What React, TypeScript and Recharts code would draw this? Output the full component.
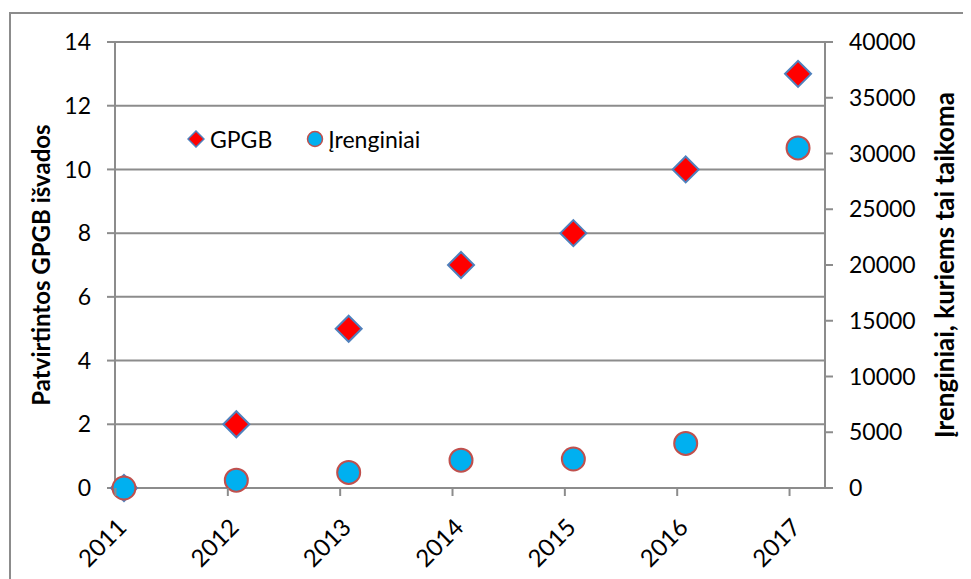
import React from "react";
import { ScatterChart, Scatter, XAxis, YAxis, CartesianGrid } from "recharts";

const years = [2011, 2012, 2013, 2014, 2015, 2016, 2017];
const gpgbCounts = [0, 2, 5, 7, 8, 10, 13];
const installations = [0, 700, 1400, 2500, 2600, 4000, 30500];
const leftTicks = [0, 2, 4, 6, 8, 10, 12, 14];
const rightTicks = [0, 5000, 10000, 15000, 20000, 25000, 30000, 35000, 40000];

const gpgbData = years.map((year, i) => ({ year, gpgb: gpgbCounts[i] }));
const unitData = years.map((year, i) => ({ year, units: installations[i] }));

const FONT = "Lato, 'Open Sans', sans-serif";
const GRID = "#8c8c8c";
const TICK_SIZE = 23;

const Diamond = (props: any) => {
  const { cx, cy } = props;
  const r = 13;
  return (
    <path
      d={`M${cx},${cy - r}L${cx + r},${cy}L${cx},${cy + r}L${cx - r},${cy}Z`}
      fill="#ff0000"
      stroke="#4f81bd"
      strokeWidth={2}
    />
  );
};

const Dot = (props: any) => {
  const { cx, cy } = props;
  return <circle cx={cx} cy={cy} r={11.5} fill="#00b0f0" stroke="#c0504d" strokeWidth={2} />;
};

const YearTick = (props: any) => {
  const { x, y, payload } = props;
  const ax = x + 4;
  const ay = y + 41;
  return (
    <g>
      <line x1={x - 8.5} y1={y} x2={x - 8.5} y2={y + 8} stroke={GRID} strokeWidth={2} />
      <text
        x={ax}
        y={ay}
        transform={`rotate(-45, ${ax}, ${ay})`}
        textAnchor="end"
        fontSize={24}
        fontFamily={FONT}
        fill="#000"
      >
        {payload.value}
      </text>
    </g>
  );
};

const axisTitle = (text: string, dx: number, size: number) => (p: any) => {
  const vb = p.viewBox;
  const cx = vb.x + dx;
  const cy = vb.y + vb.height / 2;
  return (
    <text
      x={cx}
      y={cy}
      transform={`rotate(-90, ${cx}, ${cy})`}
      textAnchor="middle"
      dominantBaseline="central"
      fontSize={size}
      fontWeight="bold"
      fontFamily={FONT}
      fill="#000"
    >
      {text}
    </text>
  );
};

const LegendBox = () => (
  <div
    style={{
      position: "absolute",
      top: 111,
      left: 176,
      display: "flex",
      alignItems: "center",
      fontFamily: FONT,
      fontSize: TICK_SIZE,
      color: "#000",
    }}
  >
    <svg width={18} height={18} style={{ marginRight: 5 }}>
      <path d="M9,1L17,9L9,17L1,9Z" fill="#ff0000" stroke="#4f81bd" strokeWidth={1.5} />
    </svg>
    <span style={{ marginRight: 34 }}>GPGB</span>
    <svg width={18} height={18} style={{ marginRight: 4 }}>
      <circle cx={9} cy={9} r={7.5} fill="#00b0f0" stroke="#c0504d" strokeWidth={1.5} />
    </svg>
    <span>Įrenginiai</span>
  </div>
);

export default function App() {
  return (
    <div
      style={{
        position: "relative",
        width: 960,
        height: 565,
        marginTop: 4,
        marginLeft: 1,
        borderTop: `2px solid ${GRID}`,
        borderLeft: `2px solid ${GRID}`,
        background: "#fff",
      }}
    >
      <ScatterChart width={960} height={565} margin={{ top: 28, right: 0, bottom: 0, left: 0 }}>
        <CartesianGrid yAxisId="left" vertical={false} stroke={GRID} strokeWidth={2} />
        <XAxis
          type="number"
          dataKey="year"
          domain={[2010.92, 2017.24]}
          ticks={years}
          height={91}
          tickLine={false}
          tickSize={0}
          tickMargin={0}
          axisLine={{ stroke: GRID, strokeWidth: 2 }}
          tick={<YearTick />}
          interval={0}
        />
        <YAxis
          yAxisId="left"
          dataKey="gpgb"
          type="number"
          domain={[0, 14]}
          ticks={leftTicks}
          width={104}
          tickSize={8}
          tickMargin={16}
          axisLine={{ stroke: GRID, strokeWidth: 2 }}
          tickLine={{ stroke: GRID, strokeWidth: 2 }}
          tick={{ fontSize: TICK_SIZE, fontFamily: FONT, fill: "#000" }}
          label={{ content: axisTitle("Patvirtintos GPGB išvados", 29, 24) }}
        />
        <YAxis
          yAxisId="right"
          orientation="right"
          dataKey="units"
          type="number"
          domain={[0, 40000]}
          ticks={rightTicks}
          width={146}
          tickSize={8}
          tickMargin={16}
          axisLine={{ stroke: GRID, strokeWidth: 2 }}
          tickLine={{ stroke: GRID, strokeWidth: 2 }}
          tick={{ fontSize: TICK_SIZE, fontFamily: FONT, fill: "#000" }}
          label={{ content: axisTitle("Įrenginiai, kuriems tai taikoma", 119, 26) }}
        />
        <Scatter
          name="GPGB"
          yAxisId="left"
          data={gpgbData}
          shape={<Diamond />}
          isAnimationActive={false}
        />
        <Scatter
          name="Įrenginiai"
          yAxisId="right"
          data={unitData}
          shape={<Dot />}
          isAnimationActive={false}
        />
      </ScatterChart>
      <LegendBox />
    </div>
  );
}
